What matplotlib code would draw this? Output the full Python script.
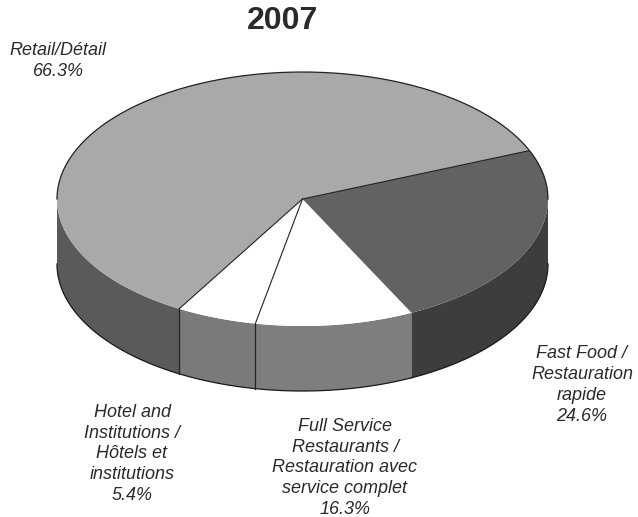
import numpy as np
import matplotlib
matplotlib.use('Agg')
import matplotlib.pyplot as plt

plt.rcParams['font.family'] = ['Liberation Sans', 'DejaVu Sans']

# order is counter-clockwise from the retail / fast food edge
labels = ['Retail/Détail\n66.3%',
          'Hotel and\nInstitutions /\nHôtels et\ninstitutions\n5.4%',
          'Full Service\nRestaurants /\nRestauration avec\nservice complet\n16.3%',
          'Fast Food /\nRestauration\nrapide\n24.6%']
# slice sizes as drawn in the picture (they do not follow the printed numbers)
shares = [60.4, 5.3, 10.4, 23.9]
top_colors = ['#a9a9a9', '#ffffff', '#ffffff', '#626262']
side_colors = ['#5a5a5a', '#7a7a7a', '#7e7e7e', '#3d3d3d']
label_pos = [(58, 61), (132, 454), (345, 468), (582, 385)]

start_angle = 22.4
cx, cy, rx, ry, depth = 302.5, 199, 245.5, 127, 65


def rim(t, dy=0):
    t = np.radians(t)
    return cx + rx * np.cos(t), cy - ry * np.sin(t) + dy


fig = plt.figure(figsize=(6.38, 5.17), dpi=100)
ax = fig.add_axes([0, 0, 1, 1])
ax.set_xlim(0, 638)
ax.set_ylim(517, 0)
ax.axis('off')

edges = start_angle + np.cumsum([0] + shares) * 3.6

# side walls first, only the front half of the rim can be seen
for i in range(len(shares)):
    a = max(edges[i], 180)
    b = min(edges[i + 1], 360)
    t = np.linspace(a, b, 80)
    x, y = rim(t)
    x2, y2 = rim(t[::-1], depth)
    ax.fill(np.r_[x, x2], np.r_[y, y2], fc=side_colors[i], ec='none', zorder=2)
    # dark lower edge of the wall
    ax.plot(x2, y2, color='#1a1a1a', lw=0.9, zorder=3)

# top faces
for i in range(len(shares)):
    t = np.linspace(edges[i], edges[i + 1], 150)
    x, y = rim(t)
    ax.fill(np.r_[cx, x], np.r_[cy, y], fc=top_colors[i], ec='none', zorder=3)

# back of the rim has a line, the front does not
t = np.linspace(0, 180, 200)
x, y = rim(t)
ax.plot(x, y, color='#222222', lw=0.9, zorder=4)

# dark lines: top edges and wall seams
for e in edges[:3]:
    x, y = rim(e)
    ax.plot([cx, x], [cy, y], color='#222222', lw=0.8, zorder=4)
for e in edges[1:3]:
    x, y = rim(e)
    ax.plot([x, x], [y, y + depth], color='#222222', lw=0.9, zorder=4)

for lab, (px, py) in zip(labels, label_pos):
    ax.text(px, py, lab, ha='center', va='center', fontsize=13, style='italic',
            color='#2a2a2a', linespacing=1.29)

ax.text(282, 21, '2007', ha='center', va='center', fontsize=23, fontweight='bold',
        color='#2a2a2a')

fig.savefig('out.png', dpi=100)
